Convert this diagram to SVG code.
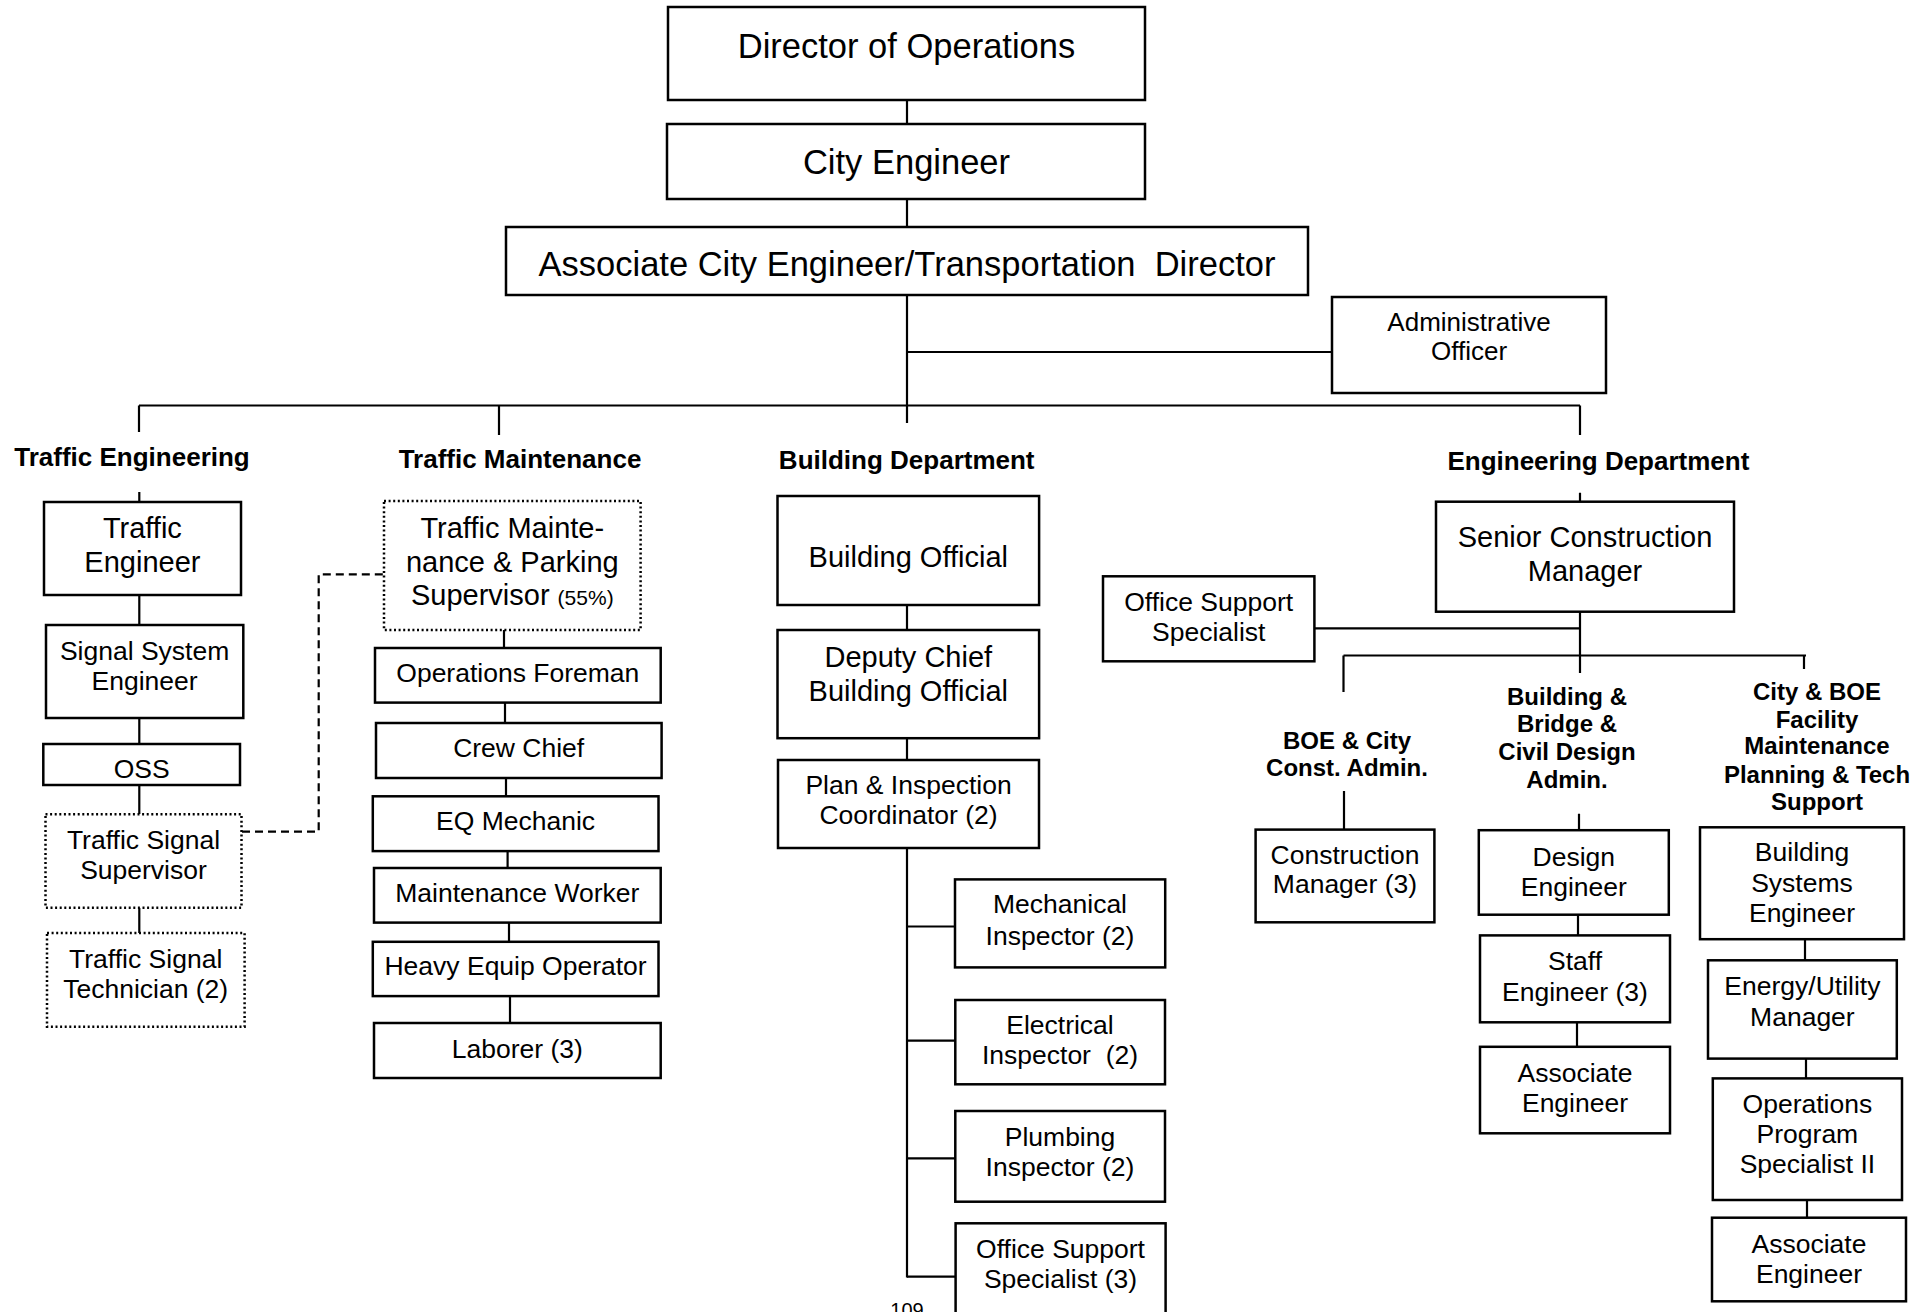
<svg xmlns="http://www.w3.org/2000/svg" width="1927" height="1312" viewBox="0 0 1927 1312">
  <style>
    .box { fill: #fff; stroke: #000; stroke-width: 2.5; }
    .dot { stroke-dasharray: 2 2.6; }
    .ln { fill: none; stroke: #000; stroke-width: 2.2; }
    .dash { stroke-dasharray: 8 5; }
    text { font-family: "Liberation Sans", Arial, sans-serif; fill: #000; text-anchor: middle; font-size: 26.5px; }
    .big { font-size: 34.5px; }
    .m { font-size: 29px; }
    .adm { font-size: 26px; }
    .h { font-size: 26px; font-weight: bold; }
    .sh { font-size: 24px; font-weight: bold; }
    .pct { font-size: 21px; }
    .pg { font-size: 20px; }
  </style>

  <rect x="0" y="0" width="1927" height="1312" fill="#fff"/>

  <!-- reporting lines -->
  <g id="connectors">
    <!-- executive chain -->
    <path class="ln" d="M907,100 V124 M907,199 V227 M907,295 V423"/>
    <path class="ln" d="M907,352 H1332"/>
    <!-- division bar -->
    <path class="ln" d="M139,405.5 H1580 M139,405.5 V432 M499,405.5 V435 M1580,405.5 V435"/>
    <!-- traffic engineering -->
    <path class="ln" d="M139.3,492 V502 M139.3,595 V625 M139.3,718 V744 M139.3,785 V814 M139.3,907.7 V933"/>
    <path class="ln dash" d="M242,831.6 H318.7 V574.4 H384"/>
    <!-- traffic maintenance -->
    <path class="ln" d="M504,630 V648 M505,702.6 V723 M506,778 V796.3 M507.6,851 V868 M509,922.6 V941.8 M510,996 V1023"/>
    <!-- building department -->
    <path class="ln" d="M907,605 V630 M907,738 V760 M907,848 V1277.5"/>
    <path class="ln" d="M907,926.5 H955 M907,1040.7 H955 M907,1158.3 H955 M907,1276.7 H955"/>
    <!-- engineering department -->
    <path class="ln" d="M1580,492.7 V501.7 M1580,611.7 V673 M1314.4,628.3 H1580"/>
    <path class="ln" d="M1343.5,655.5 H1806 M1343.5,655.5 V692 M1804,655.5 V669"/>
    <path class="ln" d="M1344,791 V829.6 M1579,813.8 V830.2 M1578,914.7 V935.4 M1577,1022.3 V1046.8"/>
    <path class="ln" d="M1805,939.2 V960.3 M1806,1058.6 V1078.4 M1807,1200 V1217.7"/>
  </g>

  <!-- executive level -->
  <g id="director-of-operations">
    <rect class="box" x="668" y="7" width="477" height="93"/>
    <text class="big" x="906.5" y="58">Director of Operations</text>
  </g>
  <g id="city-engineer">
    <rect class="box" x="667" y="124" width="478" height="75"/>
    <text class="big" x="906.5" y="174">City Engineer</text>
  </g>
  <g id="associate-city-engineer">
    <rect class="box" x="506" y="227" width="802" height="68"/>
    <text class="big" x="907" y="276" xml:space="preserve">Associate City Engineer/Transportation  Director</text>
  </g>
  <g id="administrative-officer">
    <rect class="box" x="1332" y="297" width="274" height="96"/>
    <text class="adm" x="1469"><tspan x="1469" y="331">Administrative</tspan><tspan x="1469" y="360">Officer</tspan></text>
  </g>

  <!-- Traffic Engineering -->
  <g id="traffic-engineering">
    <text class="h" x="132" y="466">Traffic Engineering</text>
  </g>
  <g id="traffic-engineer">
    <rect class="box" x="44" y="502" width="197" height="93"/>
    <text class="m"><tspan x="142.4" y="538">Traffic</tspan><tspan x="142.4" y="572">Engineer</tspan></text>
  </g>
  <g id="signal-system-engineer">
    <rect class="box" x="46" y="625" width="197.3" height="93"/>
    <text><tspan x="144.6" y="659.5">Signal System</tspan><tspan x="144.6" y="690">Engineer</tspan></text>
  </g>
  <g id="oss">
    <rect class="box" x="43.3" y="744" width="196.7" height="41"/>
    <text x="141.7" y="777.5">OSS</text>
  </g>
  <g id="traffic-signal-supervisor">
    <rect class="box dot" x="45.5" y="814.3" width="196" height="93.4"/>
    <text><tspan x="143.5" y="849">Traffic Signal</tspan><tspan x="143.5" y="879">Supervisor</tspan></text>
  </g>
  <g id="traffic-signal-technician">
    <rect class="box dot" x="47" y="933" width="197.6" height="93.7"/>
    <text><tspan x="145.7" y="968.4">Traffic Signal</tspan><tspan x="145.7" y="998.3">Technician (2)</tspan></text>
  </g>

  <!-- Traffic Maintenance -->
  <g id="traffic-maintenance">
    <text class="h" x="520" y="468">Traffic Maintenance</text>
  </g>
  <g id="traffic-maintenance-parking-supervisor">
    <rect class="box dot" x="384" y="501" width="256.6" height="129"/>
    <text class="m"><tspan x="512.3" y="538">Traffic Mainte-</tspan><tspan x="512.3" y="571.5">nance &amp; Parking</tspan><tspan x="512.3" y="604.8">Supervisor <tspan class="pct">(55%)</tspan></tspan></text>
  </g>
  <g id="operations-foreman">
    <rect class="box" x="375" y="648" width="285.7" height="54.6"/>
    <text x="517.8" y="682">Operations Foreman</text>
  </g>
  <g id="crew-chief">
    <rect class="box" x="376" y="723" width="285.6" height="55"/>
    <text x="518.7" y="757">Crew Chief</text>
  </g>
  <g id="eq-mechanic">
    <rect class="box" x="372.8" y="796.3" width="285.7" height="54.8"/>
    <text x="515.6" y="830">EQ Mechanic</text>
  </g>
  <g id="maintenance-worker">
    <rect class="box" x="374" y="868" width="286.7" height="54.6"/>
    <text x="517.3" y="902">Maintenance Worker</text>
  </g>
  <g id="heavy-equip-operator">
    <rect class="box" x="372.8" y="941.8" width="285.7" height="54.3"/>
    <text x="515.6" y="975">Heavy Equip Operator</text>
  </g>
  <g id="laborer">
    <rect class="box" x="374" y="1023" width="286.7" height="55"/>
    <text x="517.3" y="1058">Laborer (3)</text>
  </g>

  <!-- Building Department -->
  <g id="building-department">
    <text class="h" x="906.7" y="469">Building Department</text>
  </g>
  <g id="building-official">
    <rect class="box" x="777.5" y="496" width="261.6" height="109"/>
    <text class="m" x="908.3" y="567">Building Official</text>
  </g>
  <g id="deputy-chief-building-official">
    <rect class="box" x="777.5" y="630" width="261.6" height="108.2"/>
    <text class="m"><tspan x="908.3" y="666.5">Deputy Chief</tspan><tspan x="908.3" y="701">Building Official</tspan></text>
  </g>
  <g id="plan-inspection-coordinator">
    <rect class="box" x="778" y="760" width="261" height="88"/>
    <text><tspan x="908.5" y="794.3">Plan &amp; Inspection</tspan><tspan x="908.5" y="824.1">Coordinator (2)</tspan></text>
  </g>
  <g id="mechanical-inspector">
    <rect class="box" x="955" y="879.4" width="210.2" height="88"/>
    <text><tspan x="1060" y="913">Mechanical</tspan><tspan x="1060" y="944.7">Inspector (2)</tspan></text>
  </g>
  <g id="electrical-inspector">
    <rect class="box" x="955.3" y="1000" width="209.7" height="84.3"/>
    <text xml:space="preserve"><tspan x="1060" y="1033.7">Electrical</tspan><tspan x="1060" y="1064.3">Inspector  (2)</tspan></text>
  </g>
  <g id="plumbing-inspector">
    <rect class="box" x="955.3" y="1111" width="209.7" height="90.7"/>
    <text><tspan x="1060" y="1146">Plumbing</tspan><tspan x="1060" y="1176">Inspector (2)</tspan></text>
  </g>
  <g id="office-support-specialist-building">
    <rect class="box" x="955.6" y="1223.3" width="210" height="110"/>
    <text><tspan x="1060.5" y="1257.7">Office Support</tspan><tspan x="1060.5" y="1287.7">Specialist (3)</tspan></text>
  </g>

  <!-- Engineering Department -->
  <g id="engineering-department">
    <text class="h" x="1598.4" y="470">Engineering Department</text>
  </g>
  <g id="senior-construction-manager">
    <rect class="box" x="1436" y="501.7" width="298" height="110"/>
    <text class="m"><tspan x="1585" y="547">Senior Construction</tspan><tspan x="1585" y="580.5">Manager</tspan></text>
  </g>
  <g id="office-support-specialist-engineering">
    <rect class="box" x="1103" y="576.3" width="211.4" height="85"/>
    <text><tspan x="1208.7" y="611">Office Support</tspan><tspan x="1208.7" y="640.5">Specialist</tspan></text>
  </g>
  <g id="boe-city-const-admin">
    <text class="sh"><tspan x="1347" y="748.5">BOE &amp; City</tspan><tspan x="1347" y="776.3">Const. Admin.</tspan></text>
  </g>
  <g id="building-bridge-civil-design-admin">
    <text class="sh"><tspan x="1567" y="704.5">Building &amp;</tspan><tspan x="1567" y="731.5">Bridge &amp;</tspan><tspan x="1567" y="760.3">Civil Design</tspan><tspan x="1567" y="787.7">Admin.</tspan></text>
  </g>
  <g id="facility-maintenance-planning">
    <text class="sh"><tspan x="1817" y="700">City &amp; BOE</tspan><tspan x="1817" y="727.7">Facility</tspan><tspan x="1817" y="754.3">Maintenance</tspan><tspan x="1817" y="782.6">Planning &amp; Tech</tspan><tspan x="1817" y="809.6">Support</tspan></text>
  </g>
  <g id="construction-manager">
    <rect class="box" x="1255.6" y="829.6" width="178.8" height="92.7"/>
    <text><tspan x="1345" y="863.5">Construction</tspan><tspan x="1345" y="893">Manager (3)</tspan></text>
  </g>
  <g id="design-engineer">
    <rect class="box" x="1478.8" y="830.2" width="190" height="84.5"/>
    <text><tspan x="1573.8" y="866.3">Design</tspan><tspan x="1573.8" y="895.8">Engineer</tspan></text>
  </g>
  <g id="staff-engineer">
    <rect class="box" x="1480" y="935.4" width="190" height="86.9"/>
    <text><tspan x="1575" y="969.7">Staff</tspan><tspan x="1575" y="1001.4">Engineer (3)</tspan></text>
  </g>
  <g id="associate-engineer-design">
    <rect class="box" x="1480" y="1046.8" width="190" height="86.5"/>
    <text><tspan x="1575" y="1082.4">Associate</tspan><tspan x="1575" y="1112">Engineer</tspan></text>
  </g>
  <g id="building-systems-engineer">
    <rect class="box" x="1700" y="827.3" width="204" height="111.9"/>
    <text><tspan x="1802" y="861.2">Building</tspan><tspan x="1802" y="891.6">Systems</tspan><tspan x="1802" y="922">Engineer</tspan></text>
  </g>
  <g id="energy-utility-manager">
    <rect class="box" x="1708" y="960.3" width="188.8" height="98.3"/>
    <text><tspan x="1802.4" y="995">Energy/Utility</tspan><tspan x="1802.4" y="1025.8">Manager</tspan></text>
  </g>
  <g id="operations-program-specialist">
    <rect class="box" x="1712.8" y="1078.4" width="189.2" height="121.6"/>
    <text><tspan x="1807.4" y="1113.2">Operations</tspan><tspan x="1807.4" y="1142.8">Program</tspan><tspan x="1807.4" y="1173.2">Specialist II</tspan></text>
  </g>
  <g id="associate-engineer-facility">
    <rect class="box" x="1712" y="1217.7" width="194" height="83.6"/>
    <text><tspan x="1809" y="1252.5">Associate</tspan><tspan x="1809" y="1282.9">Engineer</tspan></text>
  </g>

  <!-- page number -->
  <text class="pg" x="907" y="1317">109</text>
</svg>
